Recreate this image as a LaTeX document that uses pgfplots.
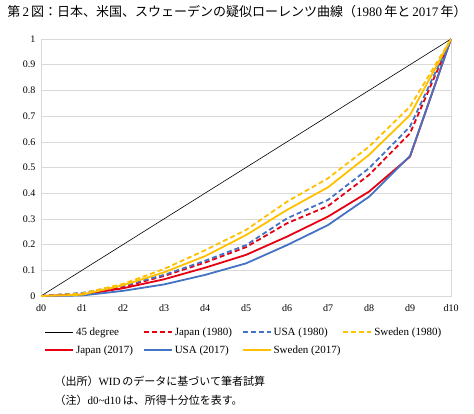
\documentclass[border=0pt]{standalone}
\usepackage{pgfplots}
\pgfplotsset{compat=1.18}
\usepackage{fontspec}
\setmainfont{Liberation Serif}
\newfontfamily\jp{Noto Sans CJK JP}

\definecolor{jpred}{RGB}{230,0,18}
\definecolor{usblue}{RGB}{68,114,196}
\definecolor{swgold}{RGB}{255,192,0}
\definecolor{gridgray}{RGB}{217,217,217}

% Decile shares: x = d0 ... d10
\pgfplotstableread{
x  deg   jp80   us80   sw80   jp17   us17   sw17
0  0.0   0.000  0.000  0.000  0.000  0.000  0.000
1  0.1   0.010  0.012  0.010  0.005  0.002  0.005
2  0.2   0.035  0.040  0.047  0.030  0.020  0.042
3  0.3   0.078  0.082  0.105  0.065  0.045  0.092
4  0.4   0.130  0.137  0.178  0.110  0.082  0.155
5  0.5   0.190  0.198  0.257  0.160  0.127  0.237
6  0.6   0.283  0.302  0.367  0.231  0.198  0.335
7  0.7   0.350  0.374  0.458  0.309  0.276  0.423
8  0.8   0.471  0.497  0.581  0.406  0.386  0.549
9  0.9   0.633  0.659  0.737  0.542  0.545  0.704
10 1.0   1.000  1.000  1.000  1.000  1.000  1.000
}\lorenz

\begin{document}
\begin{tikzpicture}
\path[use as bounding box] (0pt,0pt) rectangle (474pt,-414pt);

\node[font=\fontsize{13}{15}\selectfont] at (237pt,-12pt)
  {{\jp 第}\,2\,{\jp 図：日本、米国、スウェーデンの疑似ローレンツ曲線（}1980\,{\jp 年と}\,2017\,{\jp 年）}};

\begin{axis}[
  at={(41pt,-296pt)}, anchor=south west,
  scale only axis, width=410pt, height=257pt,
  xmin=0, xmax=10, ymin=0, ymax=1,
  xtick={0,...,10},
  xticklabels={d0,d1,d2,d3,d4,d5,d6,d7,d8,d9,d10},
  ytick={0,0.1,...,1},
  yticklabel style={/pgf/number format/fixed, xshift=-2pt},
  xticklabel style={yshift=-5pt},
  /pgf/number format/assume math mode=true,
  ticklabel style={font=\fontsize{10}{12}\selectfont},
  major tick length=0pt,
  ymajorgrids, grid style={gridgray, line width=0.6pt},
  axis line style={gridgray, line width=0.8pt},
  legend columns=4,
  legend style={at={(axis description cs:0,-0.106)}, anchor=north west,
    draw=none, fill=none, font=\fontsize{11}{13}\selectfont,
    row sep=5pt},
  legend cell align=left,
  legend image code/.code={\draw[#1] (0pt,0pt) -- (28pt,0pt);},
  every axis plot/.append style={line join=round},
]
\addplot[black, line width=0.6pt] table[x=x,y=deg] {\lorenz};
\addlegendentry{\makebox[65pt][l]{45 degree}}
\addplot[jpred, line width=1.8pt, dash pattern=on 5pt off 3pt] table[x=x,y=jp80] {\lorenz};
\addlegendentry{\makebox[65pt][l]{Japan (1980)}}
\addplot[usblue, line width=1.8pt, dash pattern=on 5pt off 3pt] table[x=x,y=us80] {\lorenz};
\addlegendentry{\makebox[65pt][l]{USA (1980)}}
\addplot[swgold, line width=1.8pt, dash pattern=on 5pt off 3pt] table[x=x,y=sw80] {\lorenz};
\addlegendentry{Sweden (1980)}
\addplot[jpred, line width=1.8pt] table[x=x,y=jp17] {\lorenz};
\addlegendentry{\makebox[65pt][l]{Japan (2017)}}
\addplot[usblue, line width=1.8pt] table[x=x,y=us17] {\lorenz};
\addlegendentry{\makebox[65pt][l]{USA (2017)}}
\addplot[swgold, line width=1.8pt] table[x=x,y=sw17] {\lorenz};
\addlegendentry{Sweden (2017)}
\end{axis}

\node[anchor=west, font=\fontsize{11}{13}\selectfont] at (51pt,-381pt)
  {{\jp （出所）}WID\,{\jp のデータに基づいて筆者試算}};
\node[anchor=west, font=\fontsize{11}{13}\selectfont] at (51pt,-400pt)
  {{\jp （注）}d0\textasciitilde d10\,{\jp は、所得十分位を表す。}};
\end{tikzpicture}
\end{document}
